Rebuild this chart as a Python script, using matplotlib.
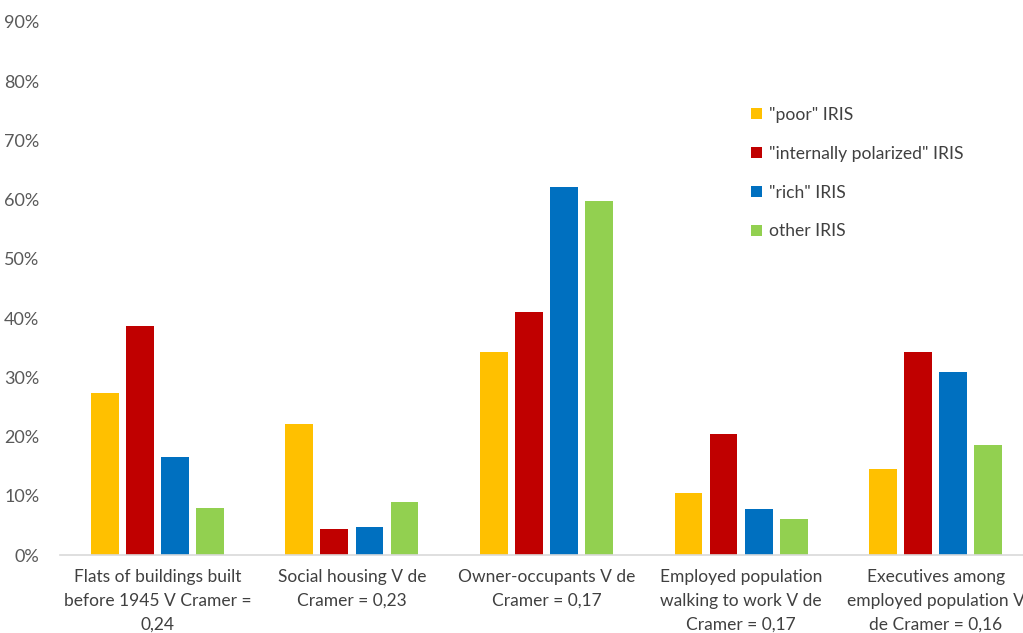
import matplotlib
matplotlib.use('Agg')
import matplotlib.pyplot as plt
import numpy as np

plt.rcParams['font.family'] = ['Lato', 'DejaVu Sans']

categories = ['Flats of buildings built\nbefore 1945 V Cramer =\n0,24',
              'Social housing V de\nCramer = 0,23',
              'Owner-occupants V de\nCramer = 0,17',
              'Employed population\nwalking to work V de\nCramer = 0,17',
              'Executives among\nemployed population V\nde Cramer = 0,16']
series_names = ['"poor" IRIS', '"internally polarized" IRIS', '"rich" IRIS', 'other IRIS']
poor = [27.3, 22.2, 34.3, 10.5, 14.5]
polarized = [38.7, 4.4, 41.0, 20.4, 34.2]
rich = [16.6, 4.8, 62.2, 7.7, 30.9]
other = [8.0, 9.0, 59.8, 6.0, 18.5]
colors = ['#FFC000', '#C00000', '#0070C0', '#92D050']
yticks = [0, 10, 20, 30, 40, 50, 60, 70, 80, 90]

W, H = 1023, 633
fig = plt.figure(figsize=(W / 100, H / 100), dpi=100)
ax = fig.add_axes([60 / W, (H - 555) / H, 973 / W, (555 - 22) / H])

x = np.arange(len(categories))
step = 0.18
bw = 0.143
for i, (vals, name, c) in enumerate(zip([poor, polarized, rich, other], series_names, colors)):
    ax.bar(x + (i - 1.5) * step, vals, bw, color=c, label=name)

ax.set_xlim(-0.5, 4.5)
ax.set_ylim(0, 90)
ax.set_yticks(yticks)
ax.set_yticklabels([f'{v}%' for v in yticks])
ax.set_xticks(x)
ax.set_xticklabels(categories, linespacing=1.6)
for s in ['top', 'right', 'left']:
    ax.spines[s].set_visible(False)
ax.spines['bottom'].set_color('#D9D9D9')
ax.spines['bottom'].set_linewidth(1.2)
ax.tick_params(axis='y', length=0, pad=15, labelsize=13, labelcolor='#595959')
ax.tick_params(axis='x', length=0, pad=10, labelsize=12.5, labelcolor='#404040')

leg = ax.legend(loc='upper left', bbox_to_anchor=(0.694, 0.87), frameon=False,
                fontsize=12.6, labelcolor='#404040', handlelength=0.6, handleheight=0.6,
                handletextpad=0.4, labelspacing=1.3)

fig.savefig('out.png', dpi=100)
